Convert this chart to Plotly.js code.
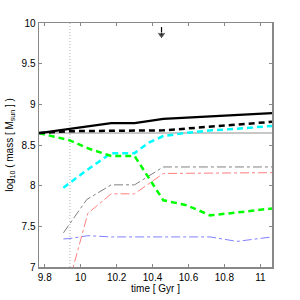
<!DOCTYPE html>
<html><head><meta charset="utf-8">
<script src="https://cdn.plot.ly/plotly-3.0.1.min.js"></script>
<style>html,body{margin:0;padding:0;background:#fff}#c{width:300px;height:300px}</style>
</head><body><div id="c"></div>
<script>
// data
const blackSolidT = [9.768, 10.17, 10.30, 10.46, 11.065];
const blackSolidM = [8.647, 8.77, 8.77, 8.822, 8.893];
const blackDashT = [9.768, 9.94, 10.46, 11.065];
const blackDashM = [8.647, 8.67, 8.68, 8.785];
const greyFlatT = [9.768, 11.065];
const greyFlatM = [8.647, 8.647];
const greenT = [9.768, 9.94, 10.04, 10.17, 10.30, 10.46, 10.59, 10.72, 10.87, 11.065];
const greenM = [8.647, 8.557, 8.46, 8.365, 8.365, 7.82, 7.76, 7.635, 7.67, 7.72];
const cyanT = [9.904, 10.04, 10.17, 10.30, 10.38, 10.46, 10.59, 10.73, 10.87, 11.065];
const cyanM = [7.975, 8.2, 8.40, 8.40, 8.53, 8.61, 8.65, 8.68, 8.70, 8.735];
const greyDDT = [9.904, 10.034, 10.17, 10.30, 10.46, 11.065];
const greyDDM = [7.42, 7.83, 8.01, 8.01, 8.23, 8.23];
const redT = [9.94, 10.04, 10.17, 10.30, 10.46, 11.065];
const redM = [6.85, 7.66, 7.90, 7.90, 8.15, 8.16];
const blueT = [9.904, 9.94, 10.04, 10.17, 10.30, 10.46, 10.59, 10.72, 10.87, 11.065];
const blueM = [7.345, 7.35, 7.385, 7.37, 7.37, 7.37, 7.37, 7.37, 7.315, 7.37];
const markT = [9.94, 9.94];
const markM = [7, 10];
const arrowT = [10.45, 10.45];
const arrowM = [9.95, 9.855];
const xTicks = [9.8, 10, 10.2, 10.4, 10.6, 10.8, 11];
const xTickText = ['9.8', '10', '10.2', '10.4', '10.6', '10.8', '11'];
const yTicks = [7, 7.5, 8, 8.5, 9, 9.5, 10];
const yTickText = ['7', '7.5', '8', '8.5', '9', '9.5', '10'];

const traces = [
  {x: greyFlatT, y: greyFlatM, mode: 'lines', line: {color: '#b4b4b4', width: 1.5}},
  {x: markT, y: markM, mode: 'lines', line: {color: '#b0b0b0', width: 1, dash: '1px,2px'}},
  {x: blueT, y: blueM, mode: 'lines', line: {color: '#8080ff', width: 1, dash: 'dashdot'}},
  {x: redT, y: redM, mode: 'lines', line: {color: '#ff8080', width: 1, dash: 'dashdot'}},
  {x: greyDDT, y: greyDDM, mode: 'lines', line: {color: '#808080', width: 1, dash: 'dashdot'}},
  {x: cyanT, y: cyanM, mode: 'lines', line: {color: '#00ffff', width: 2.5, dash: '6px,4px'}},
  {x: greenT, y: greenM, mode: 'lines', line: {color: '#00ff00', width: 2.5, dash: '6px,4px'}},
  {x: blackDashT, y: blackDashM, mode: 'lines', line: {color: '#000000', width: 2.5, dash: '6px,4px'}},
  {x: blackSolidT, y: blackSolidM, mode: 'lines', line: {color: '#000000', width: 2.2}},
  {x: arrowT, y: arrowM, mode: 'lines+markers', line: {color: '#000', width: 1.2},
   marker: {symbol: 'triangle-down', size: [0, 8], color: '#000'}}
];

const font = {family: 'Liberation Sans, Arial, sans-serif', size: 10, color: '#000'};
const layout = {
  width: 300, height: 300,
  margin: {l: 39, r: 28, t: 23, b: 33, pad: 0},
  showlegend: false,
  paper_bgcolor: '#fff', plot_bgcolor: '#fff',
  font: font,
  xaxis: {
    range: [9.768, 11.065], tickvals: xTicks, ticktext: xTickText,
    ticks: 'inside', ticklen: 3, tickcolor: '#888', showgrid: false, zeroline: false,
    showline: true, linecolor: '#888', linewidth: 1.5, mirror: 'ticks',
    tickfont: font, ticklabelstandoff: 0,
    title: {text: 'time [ Gyr ]', font: font, standoff: 1}
  },
  yaxis: {
    range: [7, 10], tickvals: yTicks, ticktext: yTickText,
    ticks: 'inside', ticklen: 3, tickcolor: '#888', showgrid: false, zeroline: false,
    showline: true, linecolor: '#888', linewidth: 1.5, mirror: 'ticks',
    tickfont: font,
    title: {text: 'log<sub>10</sub> ( mass [ M<sub>sun</sub> ] )', font: font, standoff: 6}
  }
};
Plotly.newPlot('c', traces, layout, {staticPlot: true, displayModeBar: false});
</script>
</body></html>
